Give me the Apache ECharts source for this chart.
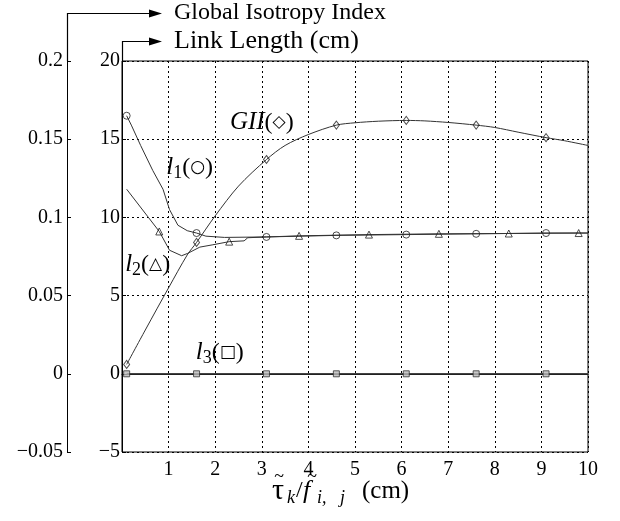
<!DOCTYPE html>
<html>
<head>
<meta charset="utf-8">
<script src="https://cdn.jsdelivr.net/npm/echarts@6/dist/echarts.min.js"></script>
<style>html,body{margin:0;padding:0;background:#fff}#c{width:620px;height:521px}</style>
</head>
<body>
<div id="c"></div>
<script>
// ---- data ----
const xTickLabels = ['', '1', '2', '3', '4', '5', '6', '7', '8', '9', '10'];
const giiCurve = [[0.1,0.006],[0.5,0.028],[1.0,0.055],[1.4,0.076],[1.6,0.084],[2.0,0.101],[2.5,0.120],[3.1,0.137],[3.5,0.146],[4.0,0.153],[4.6,0.159],[5.0,0.1605],[5.5,0.1615],[6.1,0.162],[6.5,0.1617],[7.0,0.1607],[7.6,0.159],[8.0,0.1575],[8.5,0.1545],[9.1,0.151],[9.5,0.149],[10,0.146]];
const l1Curve = [[0.1,16.5],[0.2,15.9],[0.4,14.6],[0.66,13.0],[0.88,11.8],[1.02,10.5],[1.2,9.5],[1.4,9.15],[1.6,9.0],[1.8,8.8],[2.2,8.72],[3.1,8.75],[4.6,8.85],[6.1,8.9],[7.6,8.95],[9.1,9.0],[10,9.0]];
const l2Curve = [[0.1,11.8],[0.8,9.1],[1.02,7.9],[1.28,7.55],[1.41,7.7],[1.67,8.1],[1.95,8.25],[2.3,8.45],[2.62,8.5],[2.7,8.7],[3.1,8.75],[3.8,8.82],[5.3,8.9],[6.8,8.95],[8.3,8.97],[9.8,9.0],[10,9.0]];
const l3Curve = [[0.1,0],[10,0]];
const markX1 = [0.1,1.6,3.1,4.6,6.1,7.6,9.1];
const markX2 = [0.8,2.3,3.8,5.3,6.8,8.3,9.8];
const l1Marks = [16.5,9.0,8.75,8.85,8.9,8.95,9.0];
const l2Marks = [9.1,8.45,8.82,8.9,8.95,8.97,9.0];
const l3Marks = [0,0,0,0,0,0,0];
const giiMarks = [0.006,0.084,0.137,0.159,0.162,0.159,0.151];
const outerTicks = ['−0.05','0','0.05','0.1','0.15','0.2'];
const innerTicks = ['−5','0','5','10','15','20'];

const SERIF = '"Liberation Serif","DejaVu Serif",serif';
const chart = echarts.init(document.getElementById('c'));
const zip = (xs, ys) => xs.map((x, i) => [x, ys[i]]);
const lineCol = '#333';
const markStyle = {color: 'rgba(255,255,255,0)', borderColor: '#222', borderWidth: 1};
const TICKFS = 20;

const option = {
  animation: false,
  backgroundColor: '#fff',
  grid: {left: 122, right: 32, top: 61, bottom: 69, show: true, borderColor: '#000', borderWidth: 1},
  xAxis: {
    type: 'value', min: 0, max: 10, interval: 1,
    axisLine: {lineStyle: {color: '#000', width: 1}},
    axisTick: {show: false},
    axisLabel: {color: '#000', fontFamily: SERIF, fontSize: TICKFS, margin: 8,
      formatter: v => xTickLabels[Math.round(v)]},
    splitLine: {show: true, lineStyle: {color: '#000', type: [2, 3], width: 1}}
  },
  yAxis: [
    {
      type: 'value', position: 'left', min: -5, max: 20, interval: 5,
      axisLine: {show: true, lineStyle: {color: '#000', width: 1}},
      axisTick: {show: true, inside: true, length: 4, lineStyle: {color: '#000'}},
      axisLabel: {color: '#000', fontFamily: SERIF, fontSize: TICKFS, margin: 2,
        formatter: v => innerTicks[Math.round((v + 5) / 5)]},
      splitLine: {show: true, lineStyle: {color: '#000', type: [2, 3], width: 1}}
    },
    {
      type: 'value', position: 'left', offset: 55, min: -0.05, max: 0.2, interval: 0.05,
      axisLine: {show: true, lineStyle: {color: '#000', width: 1}},
      axisTick: {show: true, inside: true, length: 4, lineStyle: {color: '#000'}},
      axisLabel: {color: '#000', fontFamily: SERIF, fontSize: TICKFS, margin: 4,
        formatter: v => outerTicks[Math.round((v + 0.05) / 0.05)]},
      splitLine: {show: false}
    }
  ],
  series: [
    {type: 'line', yAxisIndex: 1, data: giiCurve, smooth: 0.3, showSymbol: false, lineStyle: {color: lineCol, width: 1}, z: 3},
    {type: 'line', yAxisIndex: 0, data: l1Curve, showSymbol: false, lineStyle: {color: lineCol, width: 1}, z: 3},
    {type: 'line', yAxisIndex: 0, data: l2Curve, showSymbol: false, lineStyle: {color: lineCol, width: 1}, z: 3},
    {type: 'line', yAxisIndex: 0, data: l3Curve, showSymbol: false, lineStyle: {color: '#444', width: 1.5}, z: 3},
    {type: 'scatter', yAxisIndex: 1, data: zip(markX1, giiMarks), symbol: 'diamond', symbolSize: [6, 8], itemStyle: markStyle, z: 4},
    {type: 'scatter', yAxisIndex: 0, data: zip(markX1, l1Marks), symbol: 'circle', symbolSize: 7, itemStyle: markStyle, z: 4},
    {type: 'scatter', yAxisIndex: 0, data: zip(markX2, l2Marks), symbol: 'triangle', symbolSize: 7, itemStyle: markStyle, z: 4},
    {type: 'scatter', yAxisIndex: 0, data: zip(markX1, l3Marks), symbol: 'rect', symbolSize: 6, itemStyle: {color: '#bbb', borderColor: '#333', borderWidth: 1}, z: 4}
  ]
};
chart.setOption(option);

// ---- annotations, placed through the axes ----
const px = x => chart.convertToPixel({xAxisIndex: 0}, x);
const py = y => chart.convertToPixel({yAxisIndex: 0}, y);
const gridL = px(0), gridT = py(20), gridB = py(-5), gridR = px(10);
const outerX = gridL - 55;
const tipX = 162;
const rich = {
  it: {fontFamily: SERIF, fontStyle: 'italic', fontSize: 25, lineHeight: 30, verticalAlign: 'middle'},
  n: {fontFamily: SERIF, fontSize: 24, lineHeight: 30, verticalAlign: 'middle'},
  sym: {fontFamily: '"DejaVu Sans",sans-serif', fontSize: 17, lineHeight: 30, verticalAlign: 'middle'},
  sub: {fontFamily: SERIF, fontSize: 18, lineHeight: 22, verticalAlign: 'bottom', padding: [12, 0, 0, 0]}
};
function label(x, y, text) {
  return {type: 'text', x: px(x), y: py(y), z: 10,
    style: {text: text, rich: rich, align: 'center', verticalAlign: 'middle', fill: '#000'}};
}
function arrow(x0, yTop, yLine) {
  return [
    {type: 'polyline', z: 10, shape: {points: [[x0, yTop], [x0, yLine], [tipX - 10, yLine]]}, style: {stroke: '#000', lineWidth: 1.2, fill: null}},
    {type: 'polygon', z: 10, shape: {points: [[tipX - 13, yLine - 4], [tipX, yLine], [tipX - 13, yLine + 4]]}, style: {fill: '#000'}}
  ];
}

// x-axis title: pieces laid out left to right, tildes over tau and f
const nameY = gridB + 39;
const nameStart = (gridL + gridR) / 2 - 85;
const pieces = [
  {t: 'τ', off: 2, fs: 30, it: false, dy: 0, tilde: 7},
  {t: 'k', off: 17, fs: 18, it: true, dy: 7},
  {t: '/', off: 26, fs: 24, it: false, dy: 0},
  {t: 'f', off: 33, fs: 26, it: true, dy: 0, tilde: 9},
  {t: 'i,   j', off: 47, fs: 18, it: true, dy: 7},
  {t: '(cm)', off: 92, fs: 25, it: false, dy: 0}
];
const nameEls = [];
pieces.forEach(p => {
  const x0 = nameStart + p.off;
  nameEls.push({type: 'text', x: x0, y: nameY + p.dy, z: 10,
    style: {text: p.t, fontFamily: SERIF, fontSize: p.fs, fontStyle: p.it ? 'italic' : 'normal', fill: '#000', verticalAlign: 'middle'}});
  if (p.tilde !== undefined) {
    nameEls.push({type: 'text', x: x0 + p.tilde, y: nameY - 14, z: 10,
      style: {text: '~', fontFamily: SERIF, fontSize: 18, fill: '#000', align: 'center', verticalAlign: 'middle'}});
  }
});

const graphics = [].concat(
  arrow(outerX + 0.5, gridT, 13.5),
  arrow(gridL + 0.5, gridT, 41.5),
  [
    {type: 'text', x: 174, y: 13, z: 10, style: {text: 'Global Isotropy Index', fontFamily: SERIF, fontSize: 24, fill: '#000', verticalAlign: 'middle'}},
    {type: 'text', x: 174, y: 41, z: 10, style: {text: 'Link Length (cm)', fontFamily: SERIF, fontSize: 26, fill: '#000', verticalAlign: 'middle'}},
    label(3.0, 16.05, '{it|GII}{n|(}{sym|◇}{n|)}'),
    label(1.45, 13.2, '{it|l}{sub|1}{n|(}{sym|○}{n|)}'),
    label(0.55, 7.0, '{it|l}{sub|2}{n|(}{sym|△}{n|)}'),
    label(2.1, 1.35, '{it|l}{sub|3}{n|(}{sym|□}{n|)}')
  ],
  nameEls
);
chart.setOption({graphic: graphics});
</script>
</body>
</html>
